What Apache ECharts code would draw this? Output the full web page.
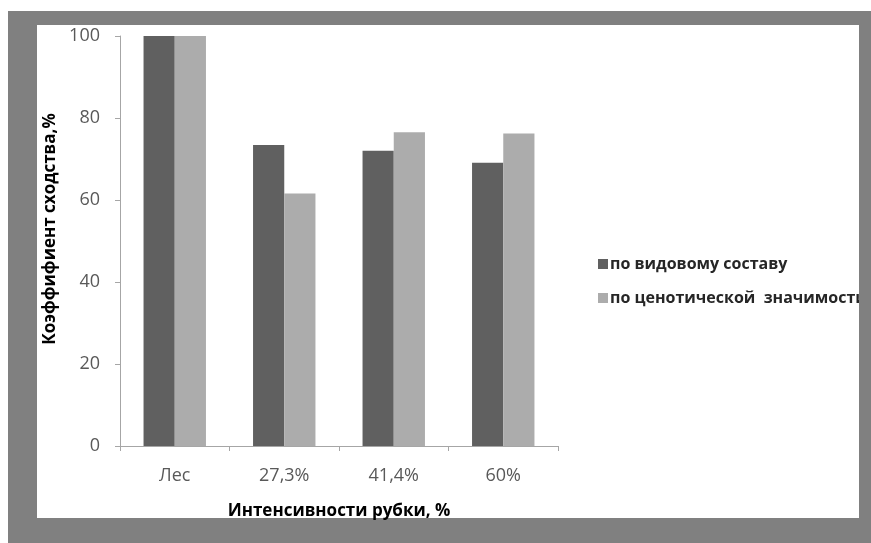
<!DOCTYPE html>
<html>
<head>
<meta charset="utf-8">
<script src="https://cdn.jsdelivr.net/npm/echarts@6/dist/echarts.min.js"></script>
<style>
  html, body { margin: 0; padding: 0; background: #fff; }
  #chart { width: 871px; height: 543px; }
</style>
</head>
<body>
<div id="chart"></div>
<script>
// данные
const categories = ['Лес', '27,3%', '41,4%', '60%'];
const speciesComposition = [100, 73.4, 72.0, 69.1];
const cenoticSignificance = [100, 61.6, 76.5, 76.2];
const seriesNames = ['по видовому составу', 'по ценотической  значимости'];

const chart = echarts.init(document.getElementById('chart'));

const option = {
  backgroundColor: '#ffffff',
  animation: false,
  textStyle: { fontFamily: 'Open Sans' },
  graphic: [
    // серая рамка
    { type: 'rect', z: -10, shape: { x: 8, y: 11, width: 863, height: 532 }, style: { fill: '#808080' } },
    { type: 'rect', z: -9, shape: { x: 37, y: 25, width: 822, height: 493 }, style: { fill: '#ffffff' } },
    // правая часть рамки поверх легенды (обрезает текст)
    { type: 'rect', z: 100, shape: { x: 859, y: 11, width: 12, height: 532 }, style: { fill: '#808080' } }
  ],
  grid: { left: 120, right: 313, top: 36, bottom: 97 },
  legend: {
    orient: 'vertical',
    left: 593,
    top: 251,
    itemWidth: 10,
    itemHeight: 10,
    itemGap: 18,
    icon: 'rect',
    textStyle: { fontFamily: 'Open Sans', fontWeight: 'bold', fontSize: 16, color: '#262626', padding: [0, 0, 0, -3] },
    data: seriesNames
  },
  xAxis: {
    type: 'category',
    data: categories,
    name: 'Интенсивности рубки, %',
    nameLocation: 'middle',
    nameGap: 57,
    nameTextStyle: { fontFamily: 'Open Sans', fontWeight: 'bold', fontSize: 17, color: '#000' },
    axisLine: { lineStyle: { color: '#a6a6a6', width: 1 } },
    axisTick: { show: true, length: 5, lineStyle: { color: '#a6a6a6' } },
    axisLabel: { fontFamily: 'Open Sans', fontSize: 18, color: '#595959', margin: 21 }
  },
  yAxis: {
    type: 'value',
    min: 0,
    max: 100,
    interval: 20,
    name: 'Коэффифиент сходства,%',
    nameLocation: 'middle',
    nameGap: 61,
    nameTextStyle: { fontFamily: 'Open Sans', fontWeight: 'bold', fontSize: 17, color: '#000', padding: [0, 0, 0, 24] },
    splitLine: { show: false },
    axisLine: { show: true, lineStyle: { color: '#a6a6a6', width: 1 } },
    axisTick: { show: true, length: 5, lineStyle: { color: '#a6a6a6' } },
    axisLabel: { fontFamily: 'Open Sans', fontSize: 18, color: '#595959', margin: 20 }
  },
  series: [
    {
      name: seriesNames[0],
      type: 'bar',
      data: speciesComposition,
      itemStyle: { color: '#606060' },
      barGap: '0%',
      barCategoryGap: '43%'
    },
    {
      name: seriesNames[1],
      type: 'bar',
      data: cenoticSignificance,
      itemStyle: { color: '#acacac' }
    }
  ]
};

chart.setOption(option);
</script>
</body>
</html>
